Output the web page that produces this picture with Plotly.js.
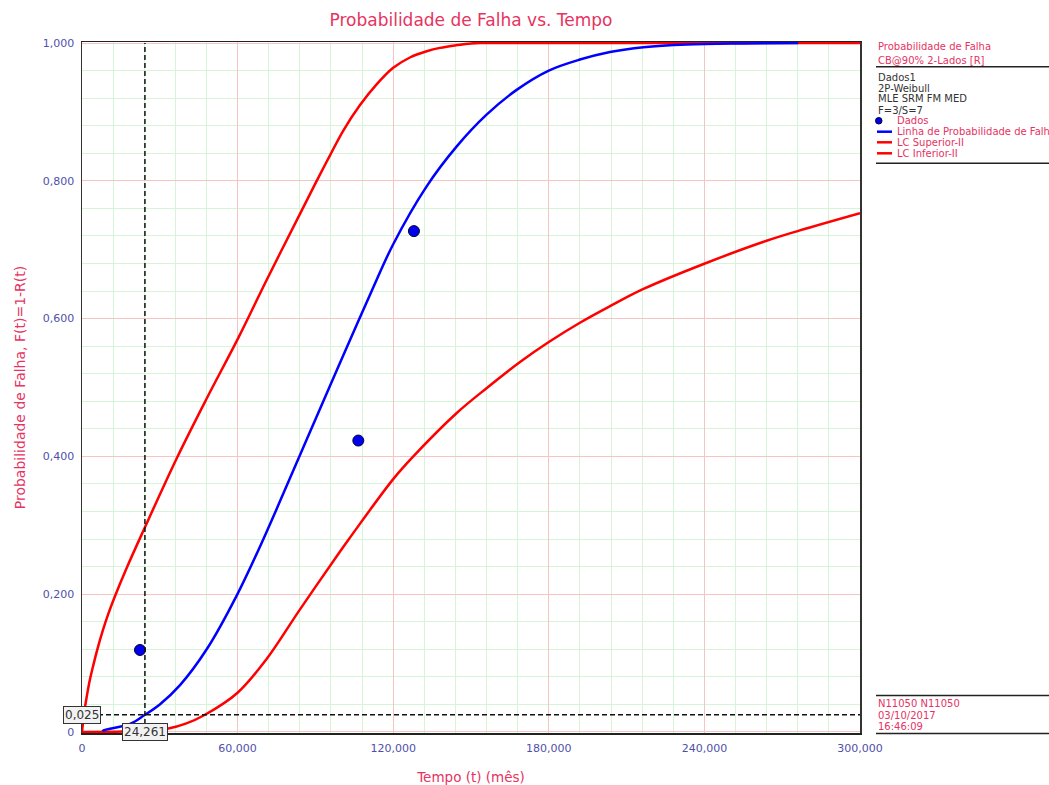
<!DOCTYPE html>
<html>
<head>
<meta charset="utf-8">
<script src="https://cdn.plot.ly/plotly-3.0.1.min.js"></script>
<style>
html,body{margin:0;padding:0;background:#fff;}
#chart{width:1049px;height:785px;}
</style>
</head>
<body>
<div id="chart"></div>
<script>
// ---- Data ----
const dataTimes = [22360, 106550, 128000];
const dataProb  = [0.119, 0.423, 0.727];

const medianTimes = [8000, 8220, 18500, 24261, 30000, 37800, 48080, 59650, 69700, 84060, 95600, 99500, 111700, 120000, 132900, 144500, 156000, 167600, 180000, 192000, 203600, 216500, 233200, 255000, 276200];
const medianProb  = [0.001, 0.002, 0.0116, 0.025, 0.040, 0.068, 0.120, 0.198, 0.278, 0.402, 0.502, 0.536, 0.640, 0.708, 0.792, 0.850, 0.896, 0.932, 0.960, 0.976, 0.987, 0.994, 0.998, 0.9995, 1.0];

const upperTimes = [0, 1000, 2000, 3000, 4370, 6000, 8000, 10000, 12700, 17220, 23650, 36500, 48080, 60270, 71200, 84060, 90500, 95630, 100760, 107200, 113600, 120000, 126450, 132900, 138000, 144500, 150000, 156000, 300000];
const upperProb  = [0, 0.032, 0.055, 0.075, 0.097, 0.121, 0.147, 0.170, 0.197, 0.238, 0.292, 0.397, 0.484, 0.572, 0.656, 0.752, 0.800, 0.837, 0.873, 0.910, 0.940, 0.964, 0.979, 0.988, 0.993, 0.997, 0.9995, 1.0, 1.0];

const lowerTimes = [0, 15800, 25000, 33300, 40000, 47430, 60000, 71200, 84060, 99500, 103300, 120000, 127760, 144500, 156000, 168900, 180000, 192000, 203600, 216500, 240200, 264000, 276800, 300000];
const lowerProb  = [0, 0.0005, 0.002, 0.005, 0.012, 0.025, 0.057, 0.106, 0.178, 0.262, 0.282, 0.367, 0.400, 0.463, 0.499, 0.537, 0.566, 0.594, 0.618, 0.643, 0.680, 0.713, 0.728, 0.753];

const crossTime = 24261;
const crossProb = 0.025;
const crossTimeLabel = "24,261";
const crossProbLabel = "0,025";

const xTickVals = [0, 60000, 120000, 180000, 240000, 300000];
const xTickText = ["0", "60,000", "120,000", "180,000", "240,000", "300,000"];
const yTickVals = [0, 0.2, 0.4, 0.6, 0.8, 1.0];
const yTickText = ["0", "0,200", "0,400", "0,600", "0,800", "1,000"];

const headerLines = ["Probabilidade de Falha", "CB@90% 2-Lados [R]"];
const infoLines = ["Dados1", "2P-Weibull", "MLE SRM FM MED", "F=3/S=7"];
const legendNames = ["Dados", "Linha de Probabilidade de Falha", "LC Superior-II", "LC Inferior-II"];
const footerLines = ["N11050 N11050", "03/10/2017", "16:46:09"];

// ---- Styling ----
const PINK = '#e6335f';
const TICKBLUE = '#5050aa';
const DARK = '#333333';
const FONT = 'DejaVu Sans, Verdana, sans-serif';

// plot area in pixels: x 82..860, y 42..733
const L = 82, R = 860, T = 42, B = 733;
const px = v => (v - L) / (R - L);
const py = v => (B - v) / (B - T);

const lineStyle = c => ({color: c, width: 2.5, shape: 'spline', smoothing: 1.0});

const traces = [
  {x: upperTimes, y: upperProb, type: 'scatter', mode: 'lines', name: legendNames[2],
   line: lineStyle('#ff0000'), showlegend: false},
  {x: lowerTimes, y: lowerProb, type: 'scatter', mode: 'lines', name: legendNames[3],
   line: lineStyle('#ff0000'), showlegend: false},
  {x: medianTimes, y: medianProb, type: 'scatter', mode: 'lines', name: legendNames[1],
   line: lineStyle('#0000ff'), showlegend: false},
  {x: dataTimes, y: dataProb, type: 'scatter', mode: 'markers', name: legendNames[0],
   marker: {color: '#0000ee', size: 11, line: {color: '#000033', width: 1}}, showlegend: false}
];

const annotations = [];
const shapes = [];

// crosshair
shapes.push({type: 'line', xref: 'x', yref: 'y', x0: crossTime, x1: crossTime, y0: 0, y1: 1,
  line: {color: '#111', width: 1.5, dash: '5px,3px'}, layer: 'above'});
shapes.push({type: 'line', xref: 'x', yref: 'y', x0: 0, x1: 300000, y0: crossProb, y1: crossProb,
  line: {color: '#111', width: 1.5, dash: '5px,3px'}, layer: 'above'});

annotations.push({xref: 'x', yref: 'y', x: 0, y: crossProb, text: crossProbLabel, showarrow: false,
  xanchor: 'center', yanchor: 'middle', bgcolor: '#f2f2f2', bordercolor: '#333', borderwidth: 1, borderpad: 1,
  font: {family: FONT, size: 12, color: DARK}});
annotations.push({xref: 'x', yref: 'y', x: crossTime, y: 0, text: crossTimeLabel, showarrow: false,
  xanchor: 'center', yanchor: 'middle', bgcolor: '#f2f2f2', bordercolor: '#333', borderwidth: 1, borderpad: 1,
  font: {family: FONT, size: 12, color: DARK}});

// right-side panel
const headerY = [46.7, 61];
headerLines.forEach((t, i) => annotations.push({xref: 'paper', yref: 'paper', x: px(876), y: py(headerY[i]),
  text: t, showarrow: false, xanchor: 'left', yanchor: 'middle', font: {family: FONT, size: 10, color: PINK}}));
const infoY = [77.5, 88.3, 99, 110];
infoLines.forEach((t, i) => annotations.push({xref: 'paper', yref: 'paper', x: px(876), y: py(infoY[i]),
  text: t, showarrow: false, xanchor: 'left', yanchor: 'middle', font: {family: FONT, size: 10, color: DARK}}));
const legY = [120.7, 131.7, 142.3, 153.3];
legendNames.forEach((t, i) => annotations.push({xref: 'paper', yref: 'paper', x: px(895), y: py(legY[i]),
  text: t, showarrow: false, xanchor: 'left', yanchor: 'middle', font: {family: FONT, size: 10, color: PINK}}));
shapes.push({type: 'circle', xref: 'paper', yref: 'paper', x0: px(875.5), x1: px(882), y0: py(124), y1: py(117.5),
  fillcolor: '#0000ee', line: {color: '#000033', width: 1}});
const legColors = ['#0000ff', '#ff0000', '#ff0000'];
[1, 2, 3].forEach((k, i) => shapes.push({type: 'line', xref: 'paper', yref: 'paper', x0: px(877), x1: px(892),
  y0: py(legY[k]), y1: py(legY[k]), line: {color: legColors[i], width: 2.5}}));
shapes.push({type: 'line', xref: 'paper', yref: 'paper', x0: px(876), x1: px(1060), y0: py(66.7), y1: py(66.7),
  line: {color: '#222', width: 1.5}});
shapes.push({type: 'line', xref: 'paper', yref: 'paper', x0: px(876), x1: px(1060), y0: py(163.3), y1: py(163.3),
  line: {color: '#222', width: 1.5}});

const footY = [703.3, 715, 726.7];
footerLines.forEach((t, i) => annotations.push({xref: 'paper', yref: 'paper', x: px(876), y: py(footY[i]),
  text: t, showarrow: false, xanchor: 'left', yanchor: 'middle', font: {family: FONT, size: 10, color: PINK}}));
shapes.push({type: 'line', xref: 'paper', yref: 'paper', x0: px(876), x1: px(1060), y0: py(695.5), y1: py(695.5),
  line: {color: '#222', width: 1.5}});
shapes.push({type: 'line', xref: 'paper', yref: 'paper', x0: px(876), x1: px(1060), y0: py(733.5), y1: py(733.5),
  line: {color: '#222', width: 1.5}});

const layout = {
  width: 1049, height: 785,
  margin: {l: L, r: 1049 - R, t: T, b: 785 - B, pad: 0},
  paper_bgcolor: '#ffffff', plot_bgcolor: '#ffffff',
  font: {family: FONT, size: 11, color: DARK},
  showlegend: false,
  title: {text: 'Probabilidade de Falha vs. Tempo', x: 0.449, xanchor: 'center', y: 1 - 20 / 785, yanchor: 'middle',
    font: {family: FONT, size: 17, color: PINK}},
  xaxis: {
    range: [0, 300000], autorange: false,
    tickmode: 'array', tickvals: xTickVals, ticktext: xTickText,
    ticks: 'outside', ticklen: 4, tickcolor: 'rgba(0,0,0,0)',
    tickfont: {family: FONT, size: 11, color: TICKBLUE},
    showgrid: true, gridcolor: '#f7c4c4', gridwidth: 1,
    minor: {tickmode: 'linear', tick0: 0, dtick: 12000, showgrid: true, gridcolor: '#d6f5d6', gridwidth: 1, ticks: ''},
    showline: true, mirror: true, linecolor: '#222', linewidth: 1.5,
    zeroline: false,
    title: {text: 'Tempo (t) (mês)', standoff: 19, font: {family: FONT, size: 13.5, color: PINK}}
  },
  yaxis: {
    range: [-0.0015, 1.0015], autorange: false,
    tickmode: 'array', tickvals: yTickVals, ticktext: yTickText,
    ticks: 'outside', ticklen: 4, tickcolor: 'rgba(0,0,0,0)',
    tickfont: {family: FONT, size: 11, color: TICKBLUE},
    showgrid: true, gridcolor: '#f7c4c4', gridwidth: 1,
    minor: {tickmode: 'linear', tick0: 0, dtick: 0.04, showgrid: true, gridcolor: '#d6f5d6', gridwidth: 1, ticks: ''},
    showline: true, mirror: true, linecolor: '#333', linewidth: 1.5,
    zeroline: false,
    title: {text: 'Probabilidade de Falha, F(t)=1-R(t)', standoff: 14, font: {family: FONT, size: 14, color: PINK}}
  },
  shapes: shapes,
  annotations: annotations
};

Plotly.newPlot('chart', traces, layout, {displayModeBar: false, staticPlot: true});
</script>
</body>
</html>
